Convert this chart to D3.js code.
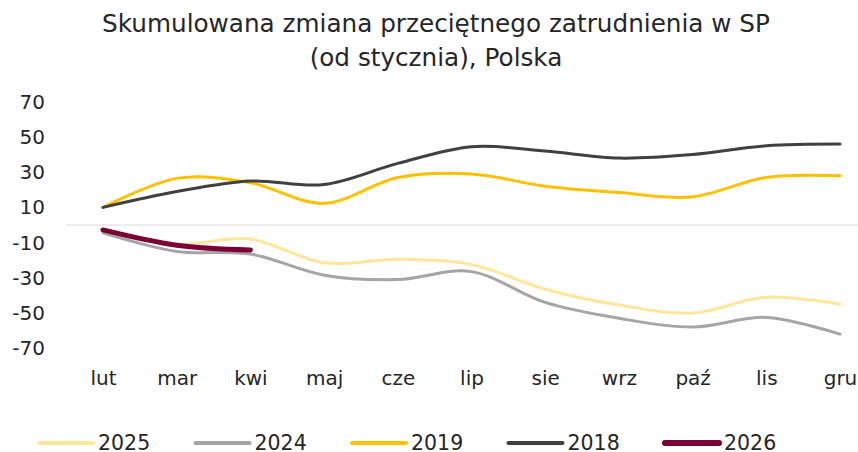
<!DOCTYPE html>
<html>
<head>
<meta charset="utf-8">
<script src="https://cdn.jsdelivr.net/npm/d3@7"></script>
<style>
  body { margin: 0; background: #fff; }
  text { font-family: "DejaVu Sans", Verdana, sans-serif; fill: #262626; }
</style>
</head>
<body>
<div class="canvas"></div>
<script>
// data
const months = ['lut', 'mar', 'kwi', 'maj', 'cze', 'lip', 'sie', 'wrz', 'paź', 'lis', 'gru'];
const yTicks = [70, 50, 30, 10, -10, -30, -50, -70];

const s2025 = [-4, -11, -8, -21.5, -19.5, -22.5, -36.5, -45.5, -50, -41, -45];
const s2024 = [-4.5, -15, -16.5, -28.5, -31, -26.5, -44, -53, -58, -52.5, -62];
const s2019 = [10, 26.5, 24, 12.3, 27, 29, 22, 18.4, 16, 27, 28];
const s2018 = [10, 19, 25, 23, 35, 44.5, 42, 38, 40, 45, 46];
const s2026 = [-2.8, -11.5, -14.2];

const series = [
  { name: '2025', values: s2025, color: '#FFE699', width: 3 },
  { name: '2024', values: s2024, color: '#A5A5A5', width: 3 },
  { name: '2019', values: s2019, color: '#FFC000', width: 3 },
  { name: '2018', values: s2018, color: '#404040', width: 3 },
  { name: '2026', values: s2026, color: '#7A0036', width: 5 }
];

const width = 858, height = 452;

const svg = d3.select('.canvas').append('svg')
    .attr('width', width)
    .attr('height', height);

// title
const title = svg.append('text')
    .attr('text-anchor', 'middle')
    .style('font-size', '24.7px');
title.append('tspan').attr('x', 436).attr('y', 32).text('Skumulowana zmiana przeciętnego zatrudnienia w SP');
title.append('tspan').attr('x', 436).attr('y', 66).text('(od stycznia), Polska');

// scales
const x = d3.scalePoint().domain(months).range([103, 840]);
const y = d3.scaleLinear().domain([-70, 70]).range([348.2, 101.8]);

// zero line
svg.append('line')
    .attr('x1', 66).attr('x2', 858)
    .attr('y1', y(0)).attr('y2', y(0))
    .attr('stroke', '#d9d9d9')
    .attr('stroke-width', 1);

// axes (plain hyphen for negatives, like the original)
const yAxis = d3.axisLeft(y)
    .tickValues(yTicks)
    .tickSize(0)
    .tickPadding(21)
    .tickFormat(d => String(d));
const yAxisGroup = svg.append('g')
    .attr('transform', 'translate(66,0)')
    .call(yAxis);

const xAxis = d3.axisBottom(x).tickSize(0).tickPadding(11);
const xAxisGroup = svg.append('g')
    .attr('transform', 'translate(0,360)')
    .call(xAxis);

[yAxisGroup, xAxisGroup].forEach(g => {
  g.select('.domain').remove();
  g.selectAll('text')
    .style('font-family', '"DejaVu Sans", Verdana, sans-serif')
    .style('font-size', '20px')
    .attr('fill', '#262626');
});

// lines
const line = d3.line()
    .x((d, i) => x(months[i]))
    .y(d => y(d))
    .curve(d3.curveCardinal.tension(0));

svg.selectAll('path.series')
    .data(series)
    .enter()
    .append('path')
    .attr('class', 'series')
    .attr('d', d => line(d.values))
    .attr('fill', 'none')
    .attr('stroke', d => d.color)
    .attr('stroke-width', d => d.width)
    .attr('stroke-linecap', 'round')
    .attr('stroke-linejoin', 'round');

// legend
const legend = svg.selectAll('g.legend')
    .data(series)
    .enter()
    .append('g')
    .attr('class', 'legend')
    .attr('transform', (d, i) => `translate(${39 + i * 156.5},443)`);

legend.append('line')
    .attr('x1', 0).attr('x2', 54)
    .attr('stroke', d => d.color)
    .attr('stroke-width', d => d.width + 1)
    .attr('stroke-linecap', 'round');

legend.append('text')
    .attr('x', 59)
    .attr('dy', '0.36em')
    .style('font-size', '20.5px')
    .text(d => d.name);
</script>
</body>
</html>
